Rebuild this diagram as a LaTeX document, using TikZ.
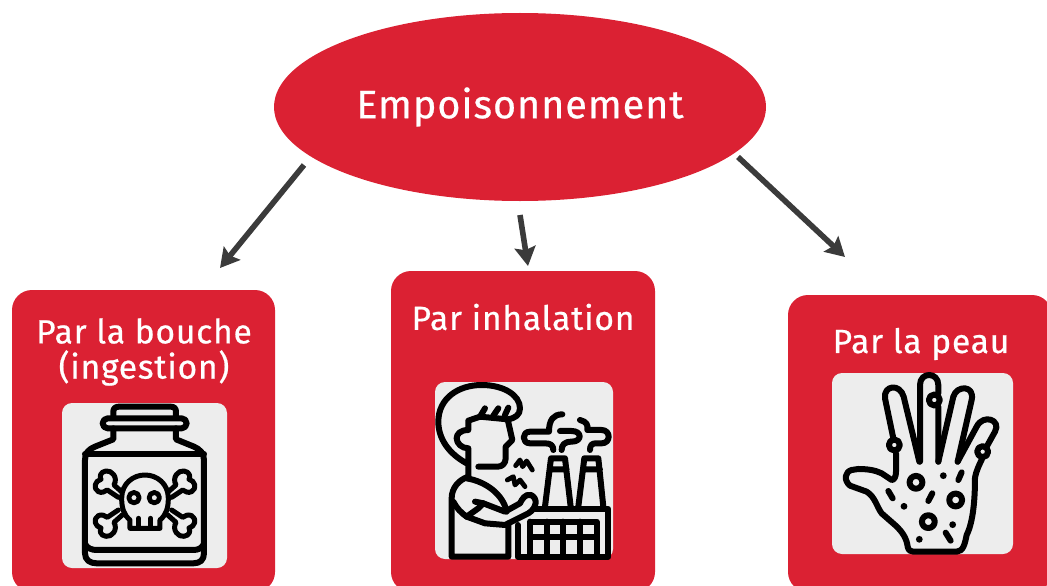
\documentclass[tikz,border=0pt]{standalone}
\usepackage{fontspec}
\setmainfont[LetterSpace=2.5,FakeBold=0.6]{Fira Sans}
\definecolor{redbg}{HTML}{DB2133}
\definecolor{panel}{HTML}{EDEDED}
\definecolor{arrowc}{HTML}{3B3B3B}
\tikzset{
 redbox/.style={fill=redbg,rounded corners=20pt,draw=none},
 panelbox/.style={fill=panel,rounded corners=10pt,draw=none},
 rootnode/.style={ellipse,fill=redbg,minimum width=492pt,minimum height=188pt,inner sep=0pt,text=white,font=\fontsize{39.5}{42}\selectfont},
 lab/.style={text=white,font=\fontsize{33.5}{36}\selectfont,align=center,inner sep=0pt},
 conn/.style={arrowc,line width=5.6pt,-{Stealth[length=19pt,width=21pt,inset=3pt]}},
 ink/.style={line width=6pt,line cap=round,line join=round,black},
 thin/.style={line width=4.8pt,line cap=round,line join=round,black},
 zoomed/.style={x=0.3333pt,y=-0.3333pt},
}
\usetikzlibrary{shapes.geometric,arrows.meta}
\newcommand{\bonehalf}{%
 \draw[ink,line width=5pt,fill=panel] (218,308) -- (192,285) .. controls (205,262) and (185,240) .. (168,243) .. controls (150,245) and (148,262) .. (153,268) .. controls (135,272) and (128,295) .. (145,305) .. controls (155,310) and (165,305) .. (172,300) -- (205,322);}
\begin{document}
\begin{tikzpicture}[x=1pt,y=-1pt]
\useasboundingbox (0,0) rectangle (1047,586);
\clip (0,0) rectangle (1047,586);
\node[rootnode] (root) at (520,107) {Empoisonnement};
\path[redbox] (12,290) rectangle (275,592);
\path[redbox] (391,271) rectangle (655,592);
\path[redbox] (788,295) rectangle (1052,592);
\node[lab] (t1) at (144,331) {Par la bouche};
\node[lab] (t1b) at (144,368) {(ingestion)};
\node[lab] (t2) at (523,317) {Par inhalation};
\node[lab] (t3) at (921,344) {Par la peau};
\path[panelbox] (62,403) rectangle (227,568);
\path[panelbox] (435,382) rectangle (613,559);
\path[panelbox] (832,373) rectangle (1013,554);
\coordinate (a1s) at (304,165); \coordinate (a1e) at (220,268);
\coordinate (a2s) at (520,215); \coordinate (a2e) at (528,266);
\coordinate (a3s) at (738,157); \coordinate (a3e) at (845,257);
\draw[conn] (a1s) -- (a1e);
\draw[conn] (a2s) -- (a2e);
\draw[conn] (a3s) -- (a3e);
% jar
\begin{scope}[shift={(50,390)},zoomed]
\draw[ink] (190,82) -- (190,65) .. controls (190,55) and (197,50) .. (207,50) -- (362,50) .. controls (372,50) and (378,55) .. (378,65) -- (378,82);
\draw[ink,rounded corners=5pt] (158,85) rectangle (410,115);
\draw[ink] (190,115) -- (190,148) -- (135,170) .. controls (115,178) and (105,190) .. (105,210) -- (105,490) .. controls (105,510) and (120,520) .. (140,520) -- (430,520) .. controls (450,520) and (462,510) .. (462,490) -- (462,210) .. controls (462,190) and (450,178) .. (432,170) -- (378,148) -- (378,115);
\draw[ink] (105,192) -- (462,192);
\draw[ink] (105,462) .. controls (112,475) and (125,480) .. (140,480) -- (430,480) .. controls (445,480) and (455,475) .. (462,462);
\bonehalf
\begin{scope}[shift={(570,0)},xscale=-1]\bonehalf\end{scope}
\begin{scope}[shift={(0,682)},yscale=-1]\bonehalf\end{scope}
\begin{scope}[shift={(570,682)},xscale=-1,yscale=-1]\bonehalf\end{scope}
\draw[ink,line width=5pt,fill=panel] (240,415) -- (240,390) .. controls (222,375) and (215,355) .. (215,325) .. controls (215,280) and (250,255) .. (285,255) .. controls (320,255) and (355,280) .. (355,325) .. controls (355,355) and (348,375) .. (330,390) -- (330,415) -- cycle;
\draw[ink,line width=5pt] (266,385) -- (266,412) (302,385) -- (302,412);
\draw[thin,fill=panel] (252,323) circle (5.2pt) (313,323) circle (5.2pt);
\end{scope}
% factory and man
\begin{scope}[shift={(425,375)},zoomed]
\draw[ink] (125,265) .. controls (70,235) and (40,190) .. (40,140) .. controls (40,70) and (100,30) .. (170,30) .. controls (235,30) and (285,60) .. (285,100) .. controls (285,120) and (270,130) .. (248,133) -- (165,125) -- (130,137) -- (130,165) .. controls (105,165) and (95,178) .. (95,190) .. controls (95,205) and (110,220) .. (130,220) -- (130,305);
\draw[ink] (248,133) -- (262,195) -- (242,215) -- (242,250) .. controls (242,265) and (232,275) .. (218,275) -- (160,275);
\draw[ink] (165,125) -- (180,100) (205,122) -- (220,100) (240,120) -- (250,98);
\draw[ink] (130,305) .. controls (100,315) and (80,340) .. (80,370) -- (80,545) -- (250,545) -- (250,445);
\draw[ink] (125,310) .. controls (185,320) and (235,360) .. (245,410);
\draw[ink] (85,380) .. controls (95,400) and (110,415) .. (125,425) -- (180,445) -- (240,450) -- (310,415) .. controls (335,400) and (340,370) .. (318,360) .. controls (300,355) and (290,375) .. (285,385) -- (240,410) -- (175,385) -- (150,380);
\draw[ink] (175,385) -- (160,400) -- (125,425);
\draw[thin] (272,272) -- (285,255) -- (293,275) -- (305,258) -- (322,285);
\draw[thin] (247,315) -- (265,305) -- (270,330) -- (285,315) -- (300,335);
\draw[ink] (360,395) -- (378,250) -- (420,250) -- (437,395) (375,283) -- (425,283);
\draw[ink] (460,395) -- (478,250) -- (520,250) -- (535,395) (475,283) -- (525,283);
\draw[ink] (330,402) -- (550,402) -- (550,545) -- (278,545) -- (278,450);
\draw[ink] (315,440) -- (515,440) -- (515,545) (315,440) -- (315,545) (315,485) -- (515,485) (365,440) -- (365,545) (415,440) -- (415,545) (465,440) -- (465,545);
\draw[ink] (412,118) .. controls (385,118) and (372,135) .. (372,170) -- (315,170) .. controls (290,170) and (290,205) .. (315,205) -- (360,205) .. controls (378,205) and (385,212) .. (385,225);
\draw[ink] (405,168) -- (440,168) .. controls (472,168) and (472,200) .. (440,200) .. controls (418,200) and (410,210) .. (410,225);
\draw[ink] (465,135) .. controls (485,140) and (490,150) .. (487,165) -- (530,165) .. controls (558,165) and (558,205) .. (530,205) -- (512,205) .. controls (500,205) and (495,212) .. (495,225);
\end{scope}
% hand
\begin{scope}[shift={(825,365)},zoomed]
\draw[ink] (213,265) -- (213,320) .. controls (213,335) and (208,345) .. (200,345) -- (170,325) .. controls (150,315) and (125,312) .. (100,312) -- (80,315) .. controls (60,320) and (55,345) .. (75,362) -- (125,380) .. controls (150,395) and (155,425) .. (170,445) -- (210,480) .. controls (232,500) and (245,520) .. (248,545) .. controls (250,557) and (258,560) .. (265,560) -- (395,560) .. controls (415,560) and (420,535) .. (425,510) .. controls (445,470) and (450,400) .. (450,340) .. controls (452,320) and (465,295) .. (472,280);
\draw[ink] (205,220) -- (180,100) .. controls (175,60) and (225,55) .. (236,95) -- (283,290);
\draw[ink] (285,290) -- (285,60) .. controls (285,20) and (340,20) .. (340,60) -- (340,85) (340,125) -- (340,290);
\draw[ink] (340,290) -- (385,95) .. controls (395,60) and (450,60) .. (440,105) -- (398,290);
\draw[ink] (398,290) -- (455,185) .. controls (475,145) and (530,165) .. (510,200) -- (485,245);
\draw[ink,fill=panel] (208,240) circle (5.5pt) (328,105) circle (5.5pt) (473,260) circle (5.5pt);
\draw[ink,fill=panel] (273,352) circle (6.4pt) (392,405) circle (6.4pt) (310,470) circle (6.4pt);
\fill[black] (355,332) circle (3.4pt) (237,424) circle (3.4pt) (383,479) circle (3.4pt) (283,523) circle (3.4pt);
\draw[ink] (190,378) -- (203,400) (410,322) -- (400,345) (322,385) -- (310,408) (362,503) -- (377,527);
\end{scope}
\end{tikzpicture}
\end{document}
